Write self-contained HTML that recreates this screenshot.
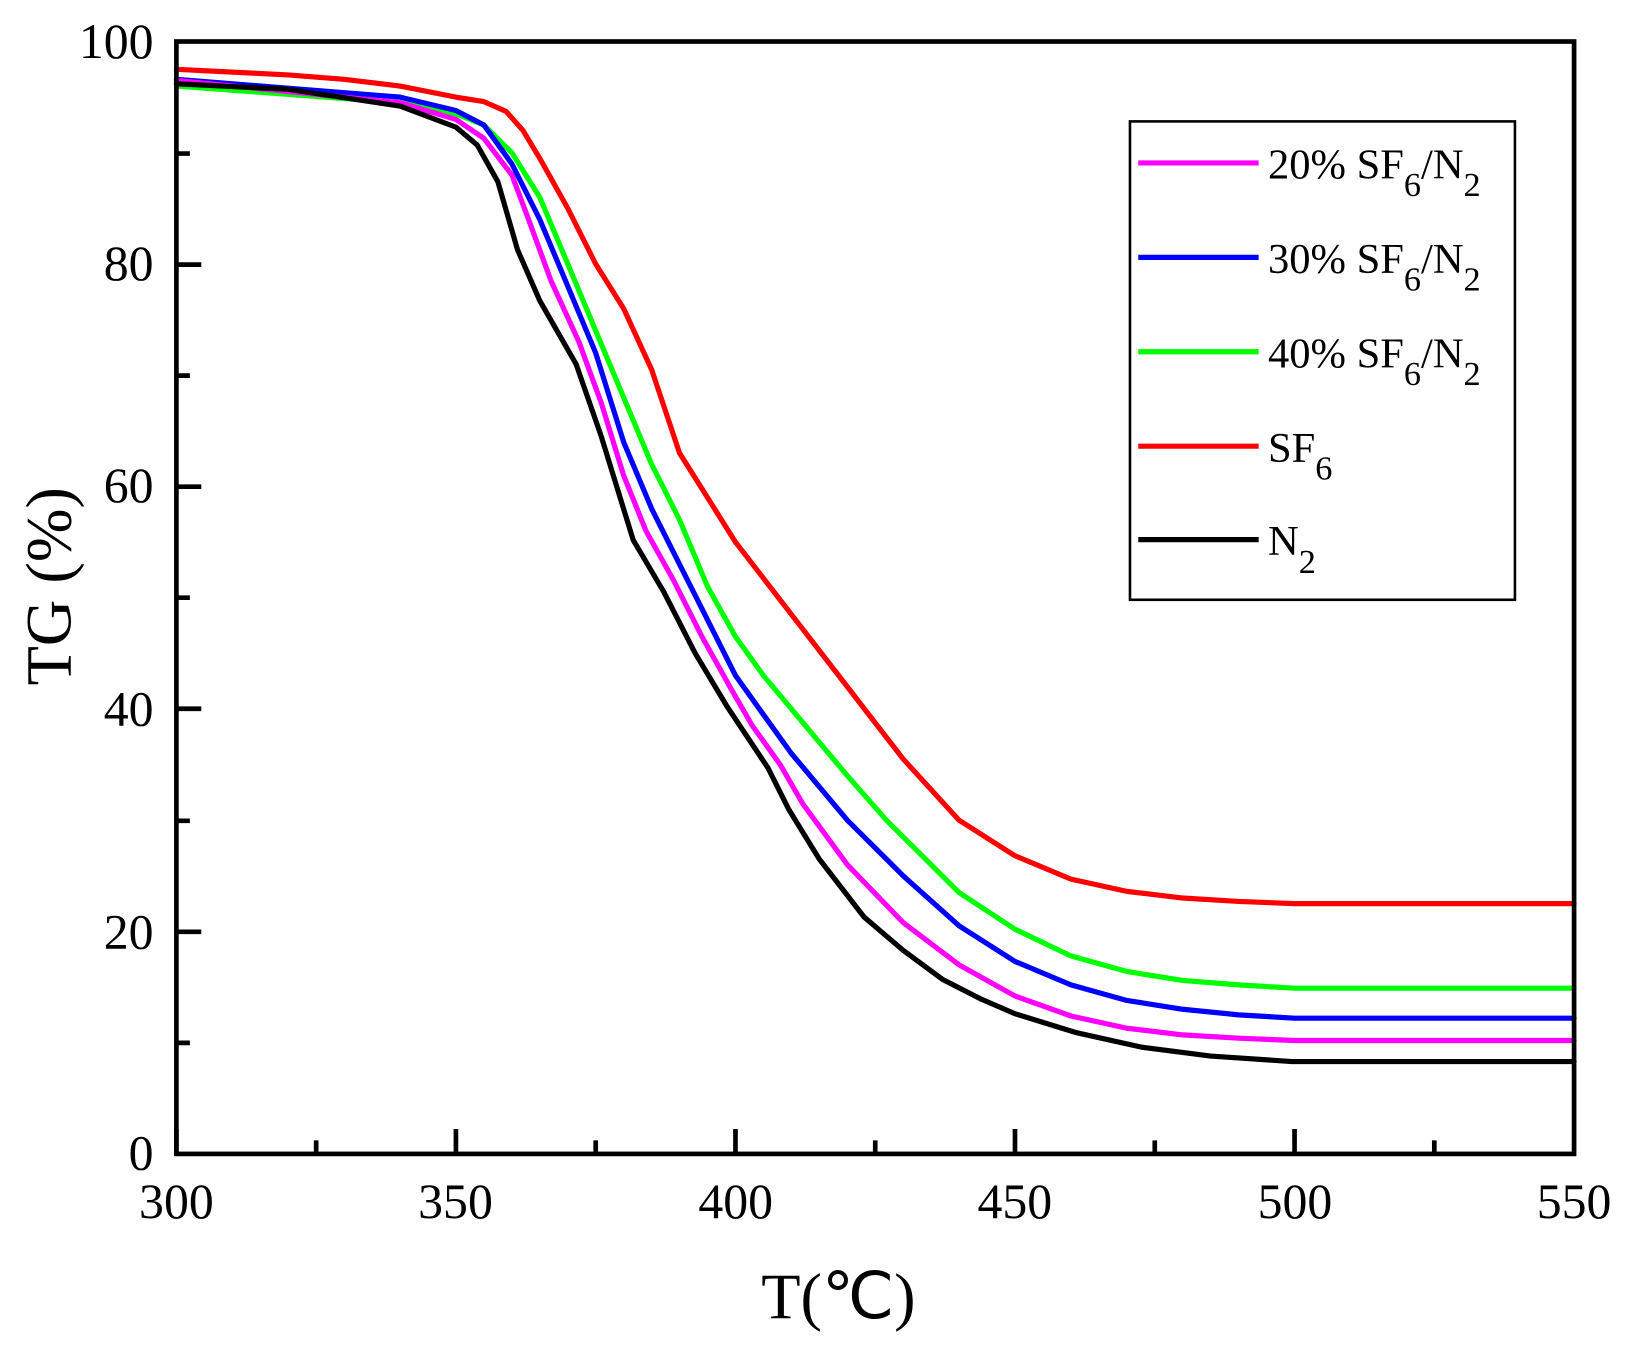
<!DOCTYPE html>
<html><head><meta charset="utf-8"><style>html,body{margin:0;padding:0;background:#fff}svg{display:block}</style></head>
<body>
<svg width="1627" height="1349" viewBox="0 0 1568 1300" preserveAspectRatio="none" xmlns="http://www.w3.org/2000/svg" font-family="Liberation Serif, serif">
<rect width="1568" height="1300" fill="#fff"/>
<g id="curves" fill="none" stroke-width="5" stroke-linejoin="round" stroke-linecap="round"></g>
<g stroke="#000" stroke-width="4.5" fill="none">
<rect x="170" y="40" width="1347" height="1072"/>
<path d="M170,1112v-24M304.7,1112v-13M439.4,1112v-24M574.1,1112v-13M708.8,1112v-24M843.5,1112v-13M978.2,1112v-24M1112.9,1112v-13M1247.6,1112v-24M1382.3,1112v-13"/>
<path d="M170,1005h13M170,898h24M170,791h13M170,683h24M170,576h13M170,469h24M170,362h13M170,255h24M170,148h13"/>
</g>
<g font-size="48" text-anchor="middle" fill="#000">
<text x="170" y="1174">300</text><text x="439" y="1174">350</text><text x="709" y="1174">400</text><text x="978" y="1174">450</text><text x="1248" y="1174">500</text><text x="1517" y="1174">550</text>
</g>
<g font-size="48" text-anchor="end" fill="#000">
<text x="148" y="1127">0</text><text x="148" y="914">20</text><text x="148" y="699">40</text><text x="148" y="484">60</text><text x="148" y="270">80</text><text x="148" y="56">100</text>
</g>
<text x="808" y="1270" font-size="62" text-anchor="middle">T(℃)</text>
<text transform="translate(68,565) rotate(-90)" font-size="62" text-anchor="middle">TG (%)</text>
<rect x="1089" y="117" width="371" height="461" fill="#fff" stroke="#000" stroke-width="2.5"/>
<g stroke-width="5">
<line x1="1097" y1="157" x2="1213" y2="157" stroke="#ff00ff"/>
<line x1="1097" y1="248" x2="1213" y2="248" stroke="#0000ff"/>
<line x1="1097" y1="339" x2="1213" y2="339" stroke="#00ff00"/>
<line x1="1097" y1="430" x2="1213" y2="430" stroke="#ff0000"/>
<line x1="1097" y1="520" x2="1213" y2="520" stroke="#000"/>
</g>
<g font-size="41" fill="#000">
<text x="1222" y="172">20% SF<tspan dy="17" font-size="33">6</tspan><tspan dy="-17">/N</tspan><tspan dy="17" font-size="33">2</tspan></text>
<text x="1222" y="263">30% SF<tspan dy="17" font-size="33">6</tspan><tspan dy="-17">/N</tspan><tspan dy="17" font-size="33">2</tspan></text>
<text x="1222" y="354">40% SF<tspan dy="17" font-size="33">6</tspan><tspan dy="-17">/N</tspan><tspan dy="17" font-size="33">2</tspan></text>
<text x="1222" y="445">SF<tspan dy="17" font-size="33">6</tspan></text>
<text x="1222" y="535">N<tspan dy="17" font-size="33">2</tspan></text>
</g>
<script>
var X=function(t){return 170+(t-300)*5.388},Y=function(v){return 1112-v*10.72};
var S=[
["#00ff00",[[300,96],[340,94.5],[350,93.5],[355,92.5],[360,90],[365,86],[370,80],[375,74],[380,68],[385,62],[390,57],[395,51],[400,46.5],[405,43],[410,40],[420,34],[427,30],[428,29.5],[440,23.5],[450,20.2],[460,17.8],[470,16.4],[480,15.6],[490,15.2],[500,14.9],[550,14.9]]],
["#0000ff",[[300,96.6],[340,95],[350,93.8],[355,92.5],[360,89],[365,84],[370,78],[375,72],[380,64],[385,58],[390,53],[395,48],[400,43],[405,39.5],[410,36],[420,30],[430,25],[440,20.5],[450,17.3],[460,15.2],[470,13.8],[480,13],[490,12.5],[500,12.2],[550,12.2]]],
["#ff00ff",[[300,96.5],[340,94.5],[350,93],[355,91.3],[360,88],[363,84],[367,78.5],[372,73],[376,67.5],[380,61],[384,56],[389,51.5],[394,46.5],[399,42],[403,38.5],[408,35],[412,31.5],[420,26],[430,20.8],[440,17],[450,14.2],[460,12.4],[470,11.3],[480,10.7],[490,10.4],[500,10.2],[550,10.2]]],
["#000000",[[300,96.2],[320,95.7],[340,94.2],[350,92.3],[353.8,90.7],[357.5,87.4],[361,81.3],[365,76.7],[371.5,71],[376,64.5],[381.7,55.2],[387.2,50.5],[392.8,45],[398.4,40.3],[405.8,34.7],[409.5,31],[415,26.5],[423,21.3],[430,18.3],[437,15.7],[444,13.9],[450,12.6],[461,10.9],[472.6,9.6],[485,8.8],[499.5,8.3],[550,8.3]]],
["#ff0000",[[300,97.5],[320,97],[330,96.6],[340,96],[350,95],[355,94.6],[359,93.7],[362,92],[365,89.5],[370,85],[375,80],[380,76],[385,70.5],[390,63],[395,59],[400,55],[410,48.5],[420,42],[430,35.5],[440,30],[450,26.8],[460,24.7],[470,23.6],[480,23],[490,22.7],[500,22.5],[550,22.5]]]];
var g=document.getElementById('curves');
S.forEach(function(s){var p=document.createElementNS('http://www.w3.org/2000/svg','polyline');
p.setAttribute('points',s[1].map(function(q){return X(q[0]).toFixed(1)+','+Y(q[1]).toFixed(1)}).join(' '));
p.setAttribute('stroke',s[0]);g.appendChild(p);});
</script>
</svg>
</body></html>
